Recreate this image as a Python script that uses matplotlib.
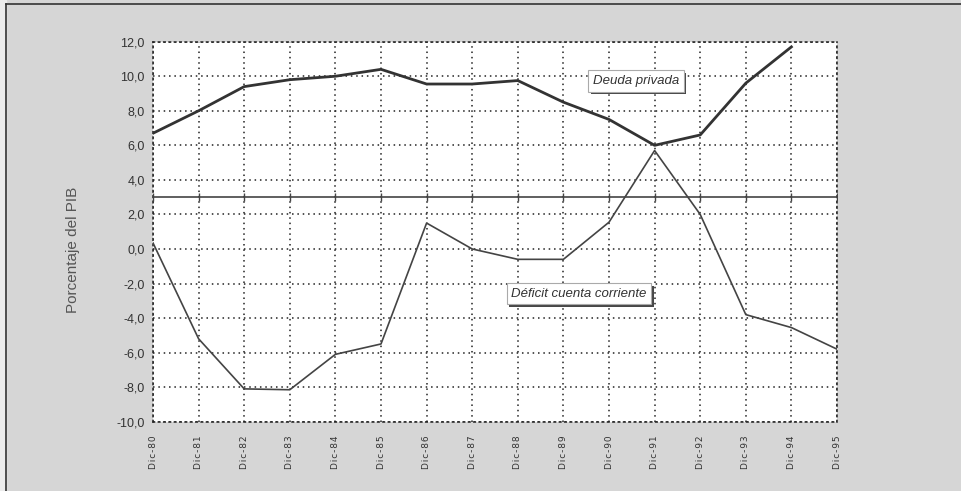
import numpy as np
import matplotlib
matplotlib.use("Agg")
import matplotlib.pyplot as plt
from matplotlib.lines import Line2D
import matplotlib.patheffects as pe

categories = ["Dic-80", "Dic-81", "Dic-82", "Dic-83", "Dic-84", "Dic-85", "Dic-86", "Dic-87",
              "Dic-88", "Dic-89", "Dic-90", "Dic-91", "Dic-92", "Dic-93", "Dic-94", "Dic-95"]
deuda_privada = [6.7, 8.0, 9.4, 9.8, 10.0, 10.4, 9.55, 9.55, 9.75, 8.5, 7.5, 6.0, 6.6, 9.6, 11.7, np.nan]
deficit_cc = [0.35, -5.2, -8.1, -8.15, -6.1, -5.5, 1.5, 0.0, -0.6, -0.6, 1.55, 5.7, 2.0, -3.8, -4.55, -5.8]
axis_cross = 3.0
y_ticks = [-10, -8, -6, -4, -2, 0, 2, 4, 6, 8, 10, 12]
y_label = "Porcentaje del PIB"
label_deuda = "Deuda privada"
label_deficit = "Déficit cuenta corriente"

plt.rcParams['font.family'] = ['Liberation Sans', 'DejaVu Sans']

fig = plt.figure(figsize=(9.61, 4.91), dpi=100)
fig.patch.set_facecolor("#d6d6d6")

# outer frame lines (top and left)
fig.add_artist(Line2D([6/961, 6/961], [0, 1 - 4/491], transform=fig.transFigure, color="#333333", lw=1.2))
fig.add_artist(Line2D([6/961, 1], [1 - 4/491, 1 - 4/491], transform=fig.transFigure, color="#333333", lw=1.2))
fig.add_artist(plt.Rectangle((0, 0), 6/961, 1, transform=fig.transFigure, color="#ececec", zorder=-1))

ax = fig.add_axes([153/961, 1 - 421.7/491, (837 - 153)/961, (421.7 - 41.7)/491])
ax.set_facecolor("white")
x = np.arange(len(categories))

ax.set_xlim(0, len(categories) - 1)
ax.set_ylim(-10, 12)
ax.set_yticks(y_ticks)
ax.set_yticklabels([f"{v:.1f}".replace(".", ",") for v in y_ticks], fontsize=9, color="#333333")
ax.set_xticks(x)
ax.set_xticklabels(["\u200a".join(c) for c in categories], rotation=90, fontsize=6.5, color="#333333",
                   family=['DejaVu Sans'])
ax.tick_params(axis='both', length=0, pad=6)
ax.tick_params(axis='x', pad=10)

ax.grid(True, which='major', linestyle=(0, (1, 2.5)), color="#222222", linewidth=1.1)
for s in ax.spines.values():
    s.set_linestyle((0, (1, 2.5)))
    s.set_color("#222222")
    s.set_linewidth(1.1)

# category axis crossing line
ax.plot(x, [axis_cross] * len(x), color="#444444", lw=1.2, marker="|", markersize=6, markeredgewidth=1.0, zorder=3)

ax.plot(x, deuda_privada, color="#333333", lw=2.0, zorder=4)
ax.plot(x, deficit_cc, color="#444444", lw=1.2, zorder=4)

ax.set_ylabel(y_label, fontsize=11, color="#555555")
ax.yaxis.set_label_coords(-0.107, 0.452)

def boxed(tx, ty, s, size):
    t = ax.text(tx, ty, s, fontsize=size, style='italic', color="#333333", ha='center', va='center', zorder=6,
                bbox=dict(boxstyle="square,pad=0.35", facecolor="white", edgecolor="#aaaaaa", linewidth=0.8))
    t.get_bbox_patch().set_path_effects([pe.SimplePatchShadow(offset=(2, -2), shadow_rgbFace="#333333", alpha=0.9),
                                         pe.Normal()])
    return t

boxed(10.59, 9.72, label_deuda, 9.5)
boxed(9.34, -2.6, label_deficit, 9.5)

fig.savefig("out.png", dpi=100, facecolor=fig.get_facecolor())
